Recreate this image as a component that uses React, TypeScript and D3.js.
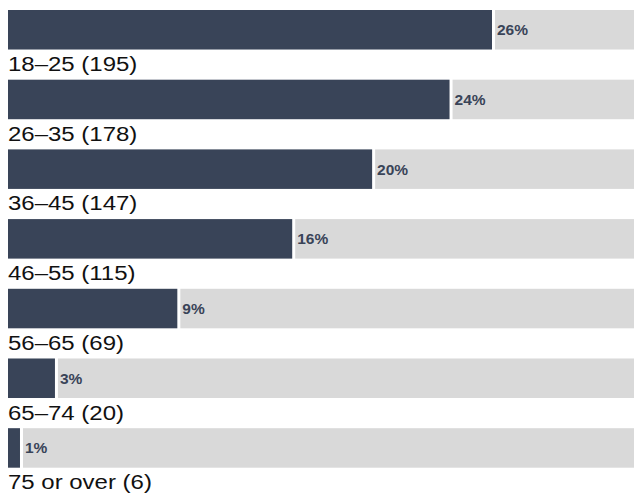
import React from 'react';
import * as d3 from 'd3';

const categories = ['18–25', '26–35', '36–45', '46–55', '56–65', '65–74', '75 or over'];
const counts = [195, 178, 147, 115, 69, 20, 6];
const percentLabels = ['26%', '24%', '20%', '16%', '9%', '3%', '1%'];

const WIDTH = 634;
const HEIGHT = 495;
const LEFT = 8;
const GAP = 3;
const DARK = '#394458';
const TRACK = '#d9d9d9';

const App: React.FC = () => {
  const x = d3.scaleLinear().domain([0, d3.max(counts) as number]).range([0, 487]);

  const y = d3.scaleBand<string>()
    .domain(categories)
    .range([10, 467.7])
    .paddingInner(0.433)
    .paddingOuter(0);

  const bw = y.bandwidth();

  return (
    <svg
      width={WIDTH}
      height={HEIGHT}
      style={{ position: 'absolute', left: 0, top: 0, background: '#ffffff' }}
    >
      {categories.map((c, i) => {
        const top = y(c) as number;
        const end = LEFT + x(counts[i]);
        return (
          <g key={c}>
            <rect x={end} y={top} width={WIDTH - end} height={bw} fill={TRACK} />
            <rect x={LEFT} y={top} width={Math.max(0, x(counts[i]) - GAP)} height={bw} fill={DARK} />
            <text
              x={end + 2}
              y={top + bw / 2 + 5.5}
              fontFamily="'Liberation Sans', Arial, sans-serif"
              fontWeight="bold"
              fontSize={15.5}
              fill={DARK}
            >
              {percentLabels[i]}
            </text>
            <text
              transform={`translate(${LEFT},${top + bw + 21.5}) scale(1.23,1)`}
              fontFamily="'Liberation Sans', Arial, sans-serif"
              fontSize={19.5}
              fill="#111111"
            >
              {`${c} (${counts[i]})`}
            </text>
          </g>
        );
      })}
    </svg>
  );
};

export default App;
